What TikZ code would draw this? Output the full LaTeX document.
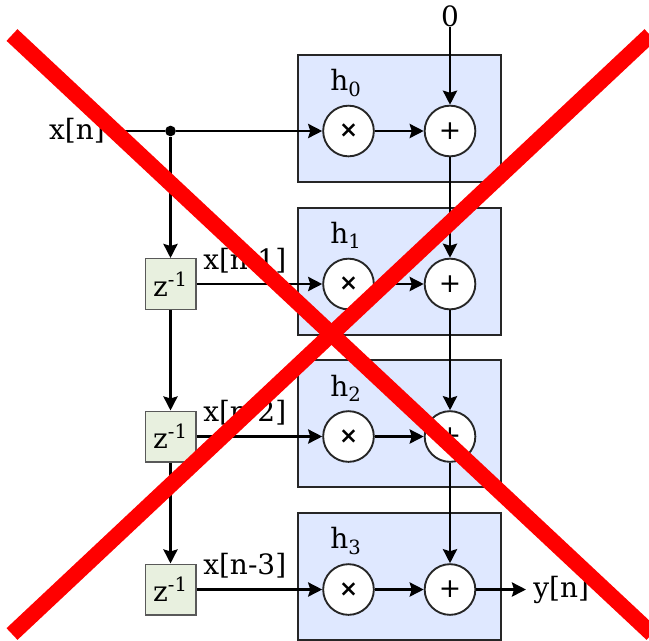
\documentclass[tikz,border=0pt]{standalone}
\usepackage{fontspec}
\setmainfont{DejaVu Serif}
\newfontfamily\opfont{DejaVu Sans}
\usepackage{tikz}
\usetikzlibrary{arrows.meta}
\definecolor{tapfill}{HTML}{DFE8FF}
\definecolor{delayfill}{HTML}{E8F0DF}
\tikzset{
    tap/.style={rectangle, draw=black!85, fill=tapfill, line width=1.5pt, minimum width=152pt, minimum height=95pt},
    op/.style={circle, draw=black!85, fill=white, line width=1.4pt, minimum size=38pt, inner sep=0pt, font=\opfont\fontsize{20}{20}\selectfont},
    mulop/.style={op, font=\opfont\bfseries\fontsize{17}{17}\selectfont},
    delay/.style={rectangle, draw=black!65, fill=delayfill, line width=1pt, minimum size=38pt, inner sep=0pt, font=\fontsize{21}{21}\selectfont},
    sig/.style={inner sep=0pt, font=\fontsize{21}{21}\selectfont},
    wire/.style={draw, line width=2.2pt, -{Stealth[length=10.5pt, width=10.5pt, inset=1.5pt]}},
    plainwire/.style={draw, line width=2.2pt},
    cross/.style={draw=red, line width=12pt}
}

\begin{document}
\begin{tikzpicture}[x=0.75pt, y=-0.75pt]
    \useasboundingbox (0,0) rectangle (649,640);

    % Tap boxes
    \node[tap] (T0) at (399.25,118.5) {};
    \node[tap] (T1) at (399.25,271.25) {};
    \node[tap] (T2) at (399.25,423.75) {};
    \node[tap] (T3) at (399.25,576.25) {};

    % Coefficients
    \node[sig] (H0) at (346,83) {h\textsubscript{0}};
    \node[sig] (H1) at (346,235) {h\textsubscript{1}};
    \node[sig] (H2) at (346,388) {h\textsubscript{2}};
    \node[sig] (H3) at (346,541) {h\textsubscript{3}};

    % Operators
    \node[mulop] (M0) at (348.5,131) {×};
    \node[op] (A0) at (450,131) {+};
    \node[mulop] (M1) at (348.5,284) {×};
    \node[op] (A1) at (450,284) {+};
    \node[mulop] (M2) at (348.5,436.5) {×};
    \node[op] (A2) at (450,436.5) {+};
    \node[mulop] (M3) at (348.5,589.5) {×};
    \node[op] (A3) at (450,589.5) {+};

    % Delays
    \node[delay] (Z1) at (170.5,284) {z\textsuperscript{-1}};
    \node[delay] (Z2) at (170.5,436.5) {z\textsuperscript{-1}};
    \node[delay] (Z3) at (170.5,589.5) {z\textsuperscript{-1}};
    \node[circle, fill=black, minimum size=8pt, inner sep=0pt] (J) at (170.5,131) {};

    % Labels
    \node[sig, anchor=east] (Xn) at (105,131) {x[n]};
    \node[sig, anchor=base west] (X1) at (203,269) {x[n-1]};
    \node[sig, anchor=base west] (X2) at (203,421) {x[n-2]};
    \node[sig, anchor=base west] (X3) at (203,574) {x[n-3]};
    \node[sig, anchor=west, inner xsep=5.25pt] (Yn) at (526,589.5) {y[n]};
    \node[sig] (Zero) at (450,16) {0};

    % Wires
    \draw[plainwire] (Xn) -- (J);
    \draw[wire] (J) -- (M0);
    \draw[wire] (J) -- (Z1);
    \draw[wire] (Z1) -- (Z2);
    \draw[wire] (Z2) -- (Z3);
    \draw[wire] (Z1) -- (M1);
    \draw[wire] (Z2) -- (M2);
    \draw[wire] (Z3) -- (M3);
    \draw[wire] (M0) -- (A0);
    \draw[wire] (M1) -- (A1);
    \draw[wire] (M2) -- (A2);
    \draw[wire] (M3) -- (A3);
    \draw[wire] (Zero) -- (A0);
    \draw[wire] (A0) -- (A1);
    \draw[wire] (A1) -- (A2);
    \draw[wire] (A2) -- (A3);
    \draw[wire] (A3) -- (Yn);

    % Strike-through
    \coordinate (C0) at (12,35);
    \coordinate (C1) at (652,634);
    \coordinate (C2) at (650,35);
    \coordinate (C3) at (12,634);
    \draw[cross] (C0) -- (C1);
    \draw[cross] (C2) -- (C3);
\end{tikzpicture}
\end{document}
